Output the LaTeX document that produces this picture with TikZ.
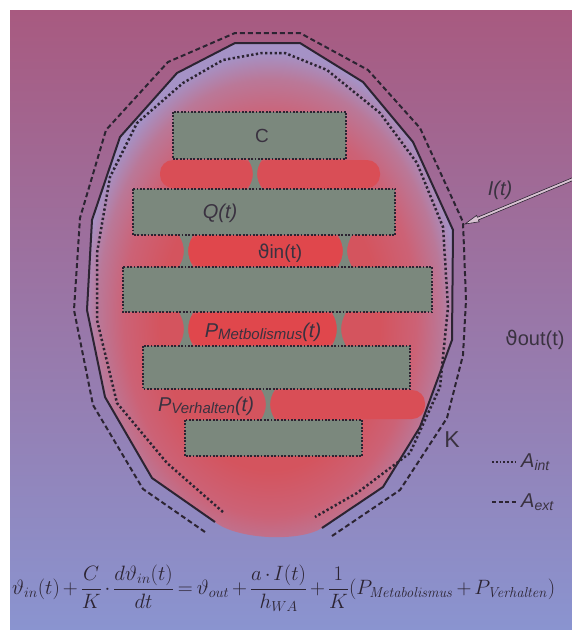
\documentclass[tikz,border=0pt]{standalone}
\usepackage[no-math]{fontspec}
\setmainfont{Liberation Sans}
\newfontfamily\thetafont{DejaVu Sans}
\usetikzlibrary{calc}
\definecolor{bgtop}{HTML}{A85A80}
\definecolor{bgmid}{HTML}{9A7EB0}
\definecolor{bgbot}{HTML}{8A94D0}
\definecolor{bodyred}{HTML}{D4545E}
\definecolor{bodypink}{HTML}{CC6276}
\definecolor{bodymauve}{HTML}{BA7898}
\definecolor{bodylav}{HTML}{A592C6}
\definecolor{hotred}{HTML}{E0474C}
\definecolor{warmred}{HTML}{D94E56}
\definecolor{boxgray}{HTML}{7B887D}
\definecolor{inkdark}{HTML}{2C2432}
\definecolor{textdark}{HTML}{3A3240}
\definecolor{arrowfill}{HTML}{D8C2D2}
\pgfdeclareradialshading{bodyglow}{\pgfpoint{0bp}{-4bp}}{color(0bp)=(bodyred); color(15bp)=(bodyred); color(20bp)=(bodypink); color(23.5bp)=(bodymauve); color(26bp)=(bodylav); color(50bp)=(bodylav)}

% neck between two layers: x, upper node, lower node
\newcommand{\neck}[3]{%
  \coordinate (nt) at (#1,0 |- #2.south);
  \coordinate (nb) at (#1,0 |- #3.north);
  \fill[neckfill] ($(nt)+(-7,0)$) .. controls ($(nt)!0.35!(nb)+(-0.5,0)$) and ($(nt)!0.65!(nb)+(-0.5,0)$) .. ($(nb)+(-7,0)$)
    -- ($(nb)+(7,0)$) .. controls ($(nt)!0.65!(nb)+(0.5,0)$) and ($(nt)!0.35!(nb)+(0.5,0)$) .. ($(nt)+(7,0)$) -- cycle;
}

\begin{document}
\begin{tikzpicture}[x=1pt, y=-1pt,
  layer/.style={draw=inkdark, fill=boxgray, line width=1.8pt,
    dash pattern=on 1.8pt off 1.6pt, inner sep=0pt},
  neckfill/.style={fill=boxgray},
  hull/.style={draw=inkdark, line width=2pt, line join=miter},
  extline/.style={draw=inkdark, line width=2pt, dash pattern=on 5pt off 3pt},
  intline/.style={draw=inkdark, line width=2.5pt, dash pattern=on 2.3pt off 2.4pt},
  tag/.style={text=textdark, inner sep=0pt, font=\fontsize{19}{21}\selectfont}
]
  \useasboundingbox (0,0) rectangle (572,630);
  \fill[white] (0,0) rectangle (572,630);
  \begin{scope}
  \clip (0,0) rectangle (572,630);
  \shade[top color=bgtop, middle color=bgmid, bottom color=bgbot] (10,10) rectangle (572,630);

  % body and its outlines
  \foreach \x/\y [count=\i] in {215/522,152/478,105/397,87/310,92/220,120/137,177/73,235/43,
      300/43,363/82,413/142,453/230,452/340,420/427,383/487,322/528}
    \coordinate (k\i) at (\x,\y);
  \shade[shading=bodyglow] (k1) \foreach \i in {2,...,16}{ -- (k\i)} .. controls (300,542) and (238,540) .. (k1) -- cycle;

  \fill[warmred, rounded corners=13] (160,160) rectangle (255,188);
  \fill[warmred, rounded corners=13] (255,160) rectangle (380,188);
  \fill[hotred, rounded corners=14] (186,236) rectangle (345,266);
  \fill[hotred, rounded corners=14] (186,313) rectangle (339,345);
  \fill[warmred, rounded corners=13] (268,390) rectangle (425,419);

  \draw[hull] (k1) \foreach \i in {2,...,16}{ -- (k\i)};
  \draw[extline] (205,532) -- (143,489) -- (93,405) -- (74,310) -- (80,218) -- (106,130) -- (168,62) -- (235,33)
    -- (300,33) -- (368,70) -- (420,128) -- (463,222) -- (466,300) -- (463,355) -- (447,418) -- (400,490) -- (332,536);
  \draw[intline] (223,512) -- (167,463) -- (117,403) -- (97,320) -- (97,253) -- (110,177) -- (137,123) -- (183,83)
    -- (223,60) -- (262,53) -- (285,53) -- (327,70) -- (380,113) -- (417,163) -- (443,227) -- (448,307)
    -- (440,387) -- (410,453) -- (357,493) -- (315,517);

  % layers
  \path (259.5,135.5) node[minimum width=173, minimum height=47] (cap) {}
        (264,212) node[minimum width=262, minimum height=46] (heat) {}
        (277.5,289.5) node[minimum width=309, minimum height=45] (core) {}
        (276.5,367.5) node[minimum width=267, minimum height=43] (meta) {}
        (273.5,438) node[minimum width=177, minimum height=36] (act) {};
  \neck{255}{cap}{heat}
  \neck{186}{heat}{core}
  \neck{345}{heat}{core}
  \neck{186}{core}{meta}
  \neck{339}{core}{meta}
  \neck{268}{meta}{act}
  \foreach \n in {cap,heat,core,meta,act}
    \path[layer] (\n.north west) rectangle (\n.south east);

  % labels
  \node[tag] (lblC) at (262,136) {C};
  \node[tag, font=\fontsize{20}{22}\selectfont\itshape] (lblQ) at (220,213) {Q(t)};
  \node[tag, font=\fontsize{19}{21}\selectfont] (lblin) at (280,253) {{\thetafont ϑ}in(t)};
  \node[tag, font=\fontsize{20}{22}\selectfont\itshape] (lblmet) at (263,332)
    {P\raisebox{-0.25ex}{\fontsize{15}{16}\selectfont Metbolismus}(t)};
  \node[tag, font=\fontsize{20}{22}\selectfont\itshape] (lblver) at (206,406)
    {P\raisebox{-0.25ex}{\fontsize{15}{16}\selectfont Verhalten}(t)};
  \node[tag, font=\fontsize{20}{22}\selectfont\itshape] (lblI) at (500,190) {I(t)};
  \node[tag, font=\fontsize{20}{22}\selectfont] (lblout) at (535,340) {{\thetafont ϑ}out(t)};
  \node[tag, font=\fontsize{23}{25}\selectfont] (lblK) at (452,440) {K};

  % I(t) arrow
  \coordinate (itip) at (465,224);
  \coordinate (isrc) at (585,174);
  \draw[inkdark, line width=0.6pt, fill=arrowfill] (itip) -- (476.6,215.4) -- (477.4,217.3) -- ($(isrc)+(-0.5,-1.3)$)
    -- ($(isrc)+(0.5,1.3)$) -- (478.4,219.9) -- (479.2,221.8) -- cycle;

  % legend
  \coordinate (li1) at (492,462);
  \coordinate (le1) at (492,502);
  \node[tag, anchor=west, font=\fontsize{20}{22}\selectfont\itshape] (lgint) at (521,462)
    {A\raisebox{-0.3ex}{\fontsize{14}{15}\selectfont int}};
  \node[tag, anchor=west, font=\fontsize{20}{22}\selectfont\itshape] (lgext) at (521,502)
    {A\raisebox{-0.3ex}{\fontsize{14}{15}\selectfont ext}};
  \draw[inkdark, line width=1.8pt, dash pattern=on 1.8pt off 2pt] (li1) -- ($(lgint.west)+(-5,0)$);
  \draw[inkdark, line width=1.8pt, dash pattern=on 4pt off 2.5pt] (le1) -- ($(lgext.west)+(-5,0)$);

  % heat balance
  \node[anchor=west, text=inkdark, inner sep=0pt] (law) at (12,588)
    {\fontsize{20.5}{26}\selectfont \medmuskip=2.5mu \thickmuskip=3.5mu
     $\displaystyle \vartheta_{in}(t)+\frac{C}{K}\cdot\frac{d\vartheta_{in}(t)}{dt}=\vartheta_{out}+\frac{a\cdot I(t)}{h_{WA}}+\frac{1}{K}(P_{\mathit{Metabolismus}}+P_{\mathit{Verhalten}})$};
  \end{scope}
\end{tikzpicture}
\end{document}
